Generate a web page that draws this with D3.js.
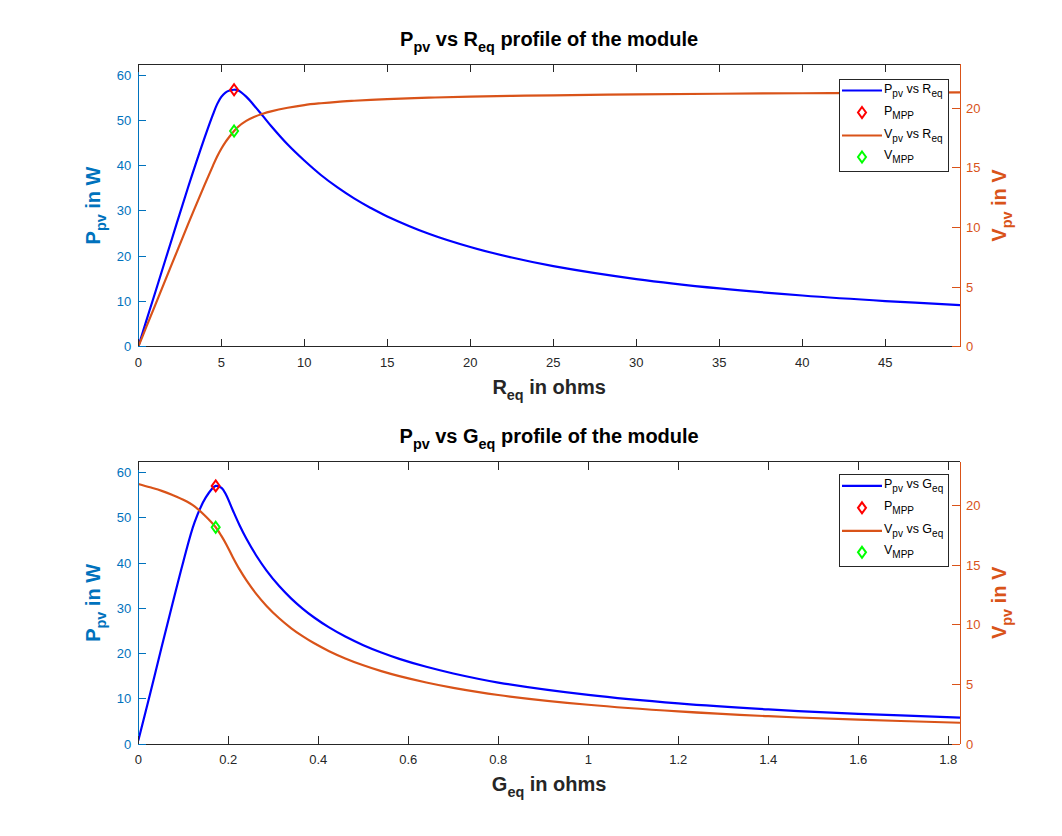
<!DOCTYPE html>
<html><head><meta charset="utf-8">
<script src="https://cdn.jsdelivr.net/npm/d3@7"></script>
<style>
html,body{margin:0;padding:0;background:#fff;}
svg{display:block;font-family:"Liberation Sans",Arial,Helvetica,sans-serif;}
</style></head>
<body><svg id="chart" width="1062" height="836"></svg>
<script>
// ---------- DATA ----------
const rEq   = [0,0.5,1,2,3,4,4.5,4.75,5,5.25,5.5,5.77,6,6.5,7,7.5,8,9,10,11,12,13,14,15,17.5,20,22.5,25,30,35,40,45,49.5];
const pVsR  = [0,5.92,11.76,23.53,35.23,46.24,51.34,53.6,55.2,56.15,56.6,56.78,56.67,55.25,53.2,51.0,48.76,44.66,41.13,37.94,35.19,32.77,30.66,28.79,24.96,22.03,19.7,17.8,14.95,12.88,11.31,10.09,9.2];
const vVsR  = [0,1.72,3.43,6.86,10.28,13.6,15.2,15.96,16.61,17.17,17.64,18.1,18.44,18.95,19.3,19.55,19.75,20.05,20.28,20.43,20.55,20.64,20.72,20.78,20.9,20.99,21.05,21.1,21.18,21.23,21.27,21.31,21.34];
const mppR  = [5.77];
const mppRP = [56.78];
const mppRV = [18.1];

const gEq   = [0,0.026,0.052,0.076,0.1,0.125,0.15,0.172,0.185,0.195,0.21,0.225,0.24,0.262,0.285,0.313,0.34,0.365,0.39,0.424,0.46,0.5,0.54,0.58,0.64,0.7,0.8,1.0,1.2,1.4,1.6,1.826];
const pVsG  = [0.8,11.0,21.5,31.0,40.3,49.0,54.5,57.05,56.6,55.1,51.67,48.36,45.42,41.68,38.35,34.92,32.15,29.95,28.03,25.78,23.76,21.86,20.24,18.84,17.08,15.61,13.6,10.86,8.98,7.66,6.7,5.87];
const vVsG  = [21.83,21.55,21.25,20.9,20.5,19.95,19.1,18.2,17.45,16.8,15.69,14.66,13.76,12.61,11.6,10.56,9.72,9.06,8.48,7.8,7.19,6.61,6.12,5.7,5.17,4.72,4.12,3.3,2.74,2.34,2.05,1.79];
const mppG  = [0.172];
const mppGP = [57.05];
const mppGV = [18.2];

const xTicksR = [0,5,10,15,20,25,30,35,40,45];
const xTicksG = [0,0.2,0.4,0.6,0.8,1,1.2,1.4,1.6,1.8];
const yTicksP = [0,10,20,30,40,50,60];
const yTicksV = [0,5,10,15,20];
const xDomR = [0,49.5], xDomG = [0,1.826], yDomP = [0,62.4], yDomV = [0,23.7];

// ---------- STYLE ----------
const C_AX = "#262626", C_L = "#0072BD", C_R = "#D95319", C_P = "#0000FF", C_V = "#D95319";
const svg = d3.select("#chart");

function rich(sel, parts, subScale, subDy){
  parts.forEach(p=>{
    if(p.sub){
      sel.append("tspan").attr("font-size", subScale+"em").attr("dy", subDy).text(p.t);
    } else {
      const t = sel.append("tspan").text(p.t);
      if(p.reset) t.attr("dy", p.reset);
    }
  });
}
function diamond(g, cx, cy, color){
  g.append("path").attr("d",`M${cx},${cy-5.5}L${cx+4},${cy}L${cx},${cy+5.5}L${cx-4},${cy}Z`)
    .attr("fill","none").attr("stroke",color).attr("stroke-width",2);
}

function panel(o){
  const L=138.3, R=960, T=o.top, B=o.top+282.4;
  const x = d3.scaleLinear().domain(o.xDom).range([L,R]);
  const yl = d3.scaleLinear().domain(yDomP).range([B,T]);
  const yr = d3.scaleLinear().domain(yDomV).range([B,T]);
  const g = svg.append("g");
  const curve = d3.curveCatmullRom.alpha(0.5);

  const clip = "clip"+o.id;
  svg.append("clipPath").attr("id",clip).append("rect").attr("x",L).attr("y",T).attr("width",R-L).attr("height",B-T);
  const cg = g.append("g").attr("clip-path",`url(#${clip})`);
  cg.append("path").datum(o.xs.map((v,i)=>[v,o.ps[i]]))
    .attr("d", d3.line().x(d=>x(d[0])).y(d=>yl(d[1])).curve(curve))
    .attr("fill","none").attr("stroke",C_P).attr("stroke-width",2.2);
  cg.append("path").datum(o.xs.map((v,i)=>[v,o.vs[i]]))
    .attr("d", d3.line().x(d=>x(d[0])).y(d=>yr(d[1])).curve(curve))
    .attr("fill","none").attr("stroke",C_V).attr("stroke-width",2.2);
  o.mx.forEach((m,i)=>{ diamond(g, x(m), yl(o.mp[i]), "#FF0000"); diamond(g, x(m), yr(o.mv[i]), "#00FF00"); });

  const ax = g.append("g").attr("shape-rendering","crispEdges");
  ax.append("line").attr("x1",L).attr("x2",R).attr("y1",T).attr("y2",T).attr("stroke",C_AX);
  ax.append("line").attr("x1",L).attr("x2",R).attr("y1",B).attr("y2",B).attr("stroke",C_AX);
  ax.append("line").attr("x1",L).attr("x2",L).attr("y1",T).attr("y2",B).attr("stroke",C_L);
  ax.append("line").attr("x1",R).attr("x2",R).attr("y1",T).attr("y2",B).attr("stroke",C_R);
  o.xTicks.forEach(t=>{
    const px = x(t);
    ax.append("line").attr("x1",px).attr("x2",px).attr("y1",B).attr("y2",B-8).attr("stroke",C_AX);
    ax.append("line").attr("x1",px).attr("x2",px).attr("y1",T).attr("y2",T+8).attr("stroke",C_AX);
    g.append("text").attr("x",px).attr("y",B+20).attr("text-anchor","middle").attr("font-size",13).attr("fill",C_AX).text(d3.format("~g")(t));
  });
  yTicksP.forEach(t=>{
    const py = yl(t);
    ax.append("line").attr("x1",L).attr("x2",L+8).attr("y1",py).attr("y2",py).attr("stroke",C_L);
    g.append("text").attr("x",L-7).attr("y",py+4.5).attr("text-anchor","end").attr("font-size",13).attr("fill",C_L).text(t);
  });
  yTicksV.forEach(t=>{
    const py = yr(t);
    ax.append("line").attr("x1",R-8).attr("x2",R).attr("y1",py).attr("y2",py).attr("stroke",C_R);
    g.append("text").attr("x",R+6).attr("y",py+4.5).attr("text-anchor","start").attr("font-size",13).attr("fill",C_R).text(t);
  });

  const tt = g.append("text").attr("x",(L+R)/2).attr("y",T-18.5).attr("text-anchor","middle")
    .attr("font-size",20).attr("font-weight","bold").attr("fill","#000");
  rich(tt,[{t:"P"},{t:"pv",sub:true},{t:" vs "+o.xVar,reset:-6},{t:"eq",sub:true},{t:" profile of the module",reset:-6}],0.72,6);
  const xl = g.append("text").attr("x",(L+R)/2).attr("y",B+47).attr("text-anchor","middle")
    .attr("font-size",20).attr("font-weight","bold").attr("fill",C_AX);
  rich(xl,[{t:o.xVar},{t:"eq",sub:true},{t:" in ohms",reset:-6}],0.72,6);
  const cy = (T+B)/2;
  const ylT = g.append("text").attr("transform",`translate(100,${cy}) rotate(-90)`).attr("text-anchor","middle")
    .attr("font-size",20).attr("font-weight","bold").attr("fill",C_L);
  rich(ylT,[{t:"P"},{t:"pv",sub:true},{t:" in W",reset:-6}],0.72,6);
  const yrT = g.append("text").attr("transform",`translate(1006,${cy}) rotate(-90)`).attr("text-anchor","middle")
    .attr("font-size",20).attr("font-weight","bold").attr("fill",C_R);
  rich(yrT,[{t:"V"},{t:"pv",sub:true},{t:" in V",reset:-6}],0.72,6);

  const lx = 839, ly = T + o.legOff, lw = 109, lh = 92;
  const lg = g.append("g");
  lg.append("rect").attr("x",lx).attr("y",ly).attr("width",lw).attr("height",lh)
    .attr("fill","#fff").attr("stroke",C_AX).attr("shape-rendering","crispEdges");
  const rows = [
    {type:"line", color:C_P, parts:[{t:"P"},{t:"pv",sub:true},{t:" vs "+o.xVar,reset:-4},{t:"eq",sub:true}]},
    {type:"mk", color:"#FF0000", parts:[{t:"P"},{t:"MPP",sub:true}]},
    {type:"line", color:C_V, parts:[{t:"V"},{t:"pv",sub:true},{t:" vs "+o.xVar,reset:-4},{t:"eq",sub:true}]},
    {type:"mk", color:"#00FF00", parts:[{t:"V"},{t:"MPP",sub:true}]}
  ];
  const rowY = [11.5, 33.5, 56.5, 78];
  rows.forEach((r,i)=>{
    const yy = ly + rowY[i];
    if(r.type==="line") lg.append("line").attr("x1",lx+3).attr("x2",lx+43).attr("y1",yy).attr("y2",yy).attr("stroke",r.color).attr("stroke-width",2.2);
    else diamond(lg, lx+23, yy, r.color);
    const t = lg.append("text").attr("x",lx+45).attr("y",yy+2).attr("font-size",12.5).attr("fill","#000");
    rich(t, r.parts, 0.8, 4);
  });
}

panel({id:"a", top:64.3, xDom:xDomR, xTicks:xTicksR, xs:rEq, ps:pVsR, vs:vVsR, mx:mppR, mp:mppRP, mv:mppRV, xVar:"R", legOff:14.7});
panel({id:"b", top:461.7, xDom:xDomG, xTicks:xTicksG, xs:gEq, ps:pVsG, vs:vVsG, mx:mppG, mp:mppGP, mv:mppGV, xVar:"G", legOff:12.6});
</script></body></html>
